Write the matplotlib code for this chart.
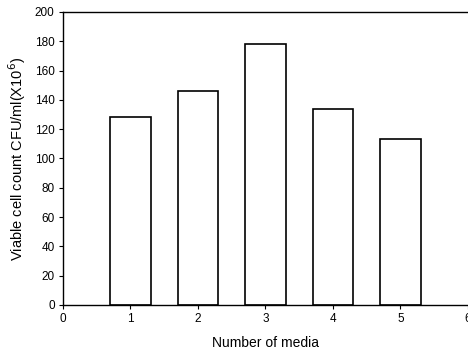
import matplotlib.pyplot as plt

plt.rcParams['font.family'] = ['Liberation Sans', 'DejaVu Sans']

media = [1, 2, 3, 4, 5]
counts = [128, 146, 178, 134, 113]

fig = plt.figure(figsize=(4.68, 3.56), dpi=100)
ax = fig.add_axes([0.1346, 0.1433, 0.8654, 0.8230])

ax.bar(media, counts, width=0.6, color='white', edgecolor='black', linewidth=1.2)

ax.set_xlim(0, 6)
ax.set_ylim(0, 200)
ax.set_xticks(range(0, 7))
ax.set_yticks(range(0, 201, 20))
ax.tick_params(direction='out', length=3, width=0.8, labelsize=8.5, pad=3)
ax.tick_params(axis='y', right=False)

for side in ['left', 'bottom', 'top']:
    ax.spines[side].set_linewidth(1.0)
ax.spines['right'].set_visible(False)

ax.set_xlabel('Number of media', fontsize=10, labelpad=8)
ax.set_ylabel('Viable cell count CFU/ml(X10$^{6}$)', fontsize=10.5, labelpad=5)

fig.savefig('out.png', dpi=100)
